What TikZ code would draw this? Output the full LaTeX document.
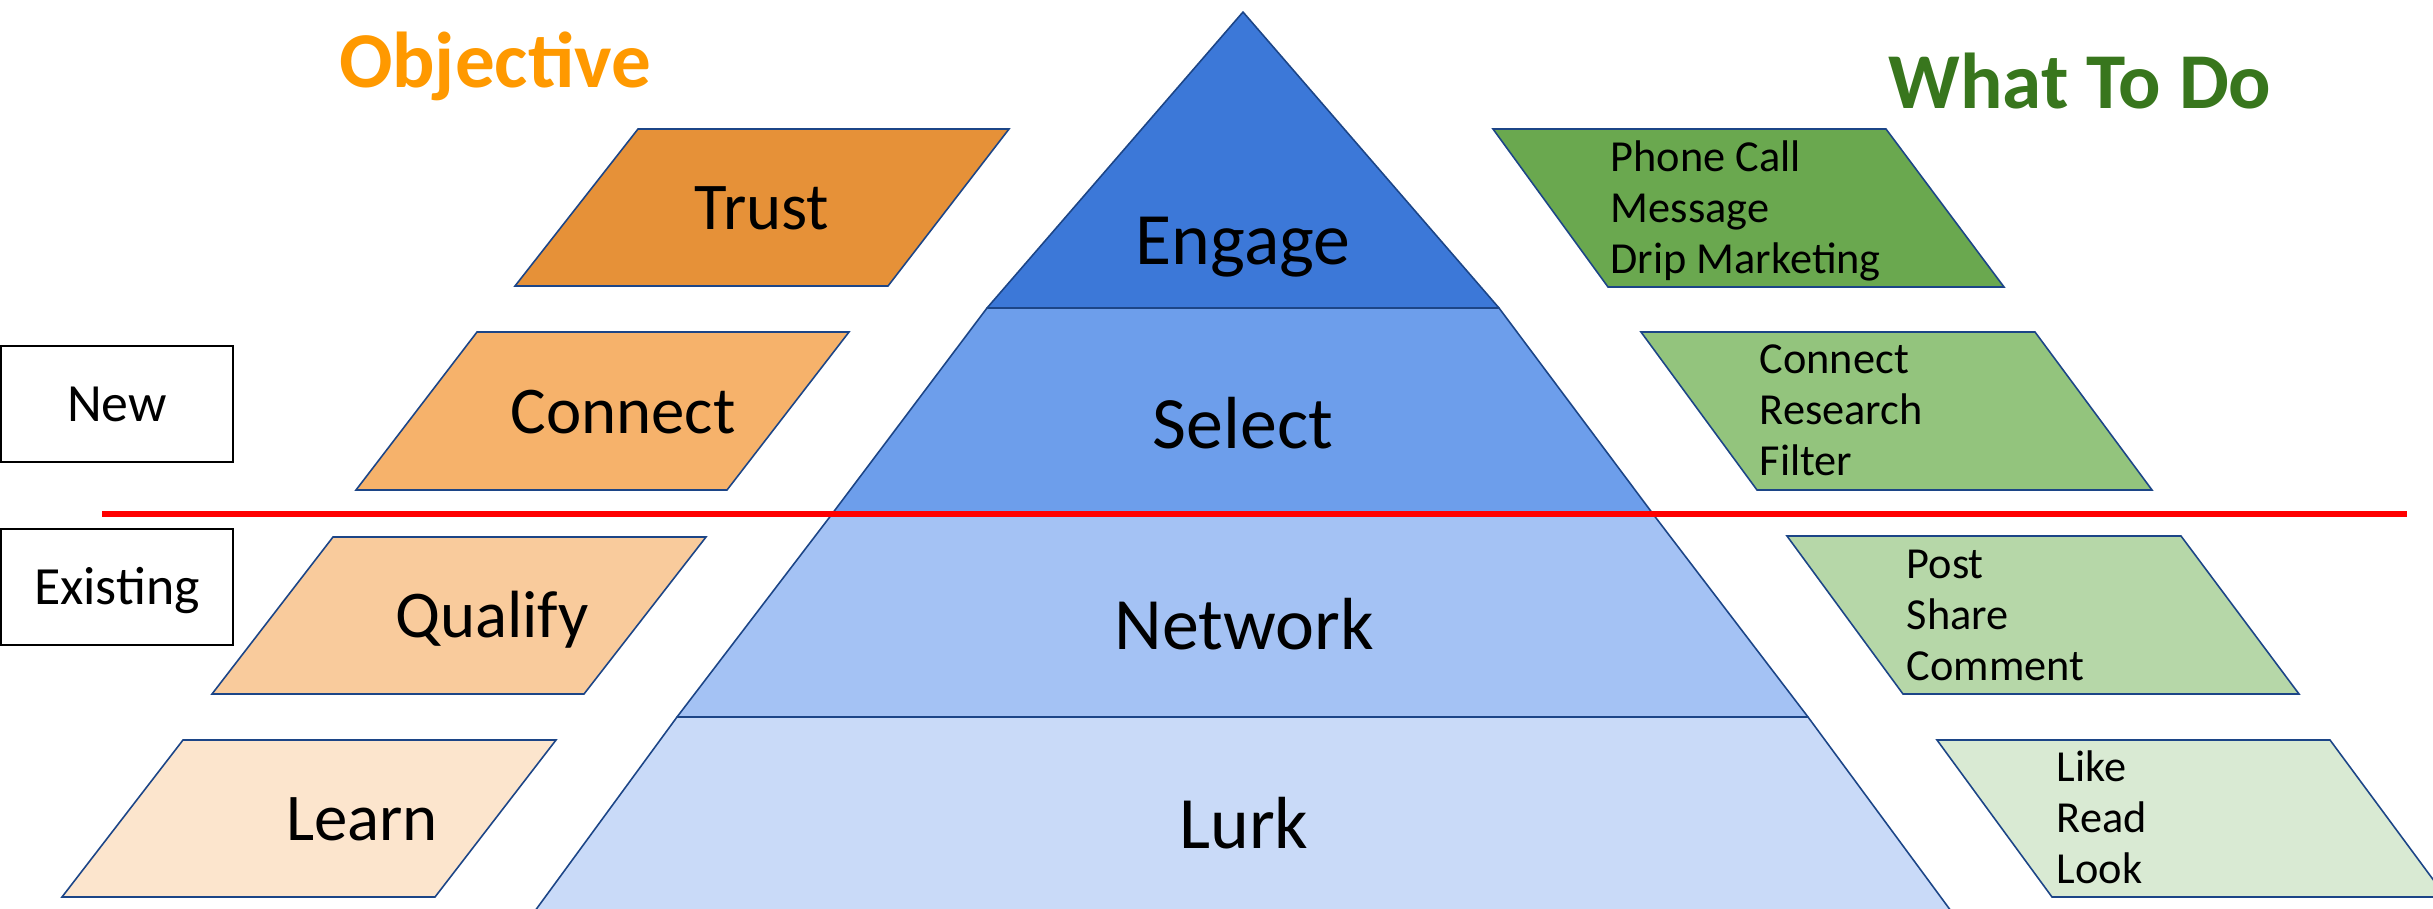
\documentclass[tikz,border=0pt]{standalone}
\usepackage{fontspec}
\setmainfont{Carlito}
\usepackage{xcolor}
\usetikzlibrary{positioning}
\definecolor{edgeblue}{HTML}{1C4587}
\definecolor{tierA}{HTML}{3C78D8}
\definecolor{tierB}{HTML}{6D9EEB}
\definecolor{tierC}{HTML}{A4C2F4}
\definecolor{tierD}{HTML}{C9DAF8}
\definecolor{goalA}{HTML}{E69138}
\definecolor{goalB}{HTML}{F6B26B}
\definecolor{goalC}{HTML}{F9CB9C}
\definecolor{goalD}{HTML}{FCE5CD}
\definecolor{todoA}{HTML}{6AA84F}
\definecolor{todoB}{HTML}{93C47D}
\definecolor{todoC}{HTML}{B6D7A8}
\definecolor{todoD}{HTML}{D9EAD3}
\definecolor{headorange}{HTML}{FF9900}
\definecolor{headgreen}{HTML}{38761D}
\tikzset{
  tier/.style={draw=edgeblue, line width=0.45pt, line join=round},
  plgram/.style={draw=edgeblue, line width=0.45pt},
  tiertxt/.style={font=\fontsize{21}{25}\selectfont, anchor=base, inner sep=0pt},
  goaltxt/.style={font=\fontsize{19}{23}\selectfont, anchor=base, inner sep=0pt},
  todotxt/.style={font=\fontsize{12.6}{14.5}\selectfont, align=left, anchor=base west, inner sep=0pt},
  headtxt/.style={font=\fontsize{22.5}{27}\selectfont\bfseries, anchor=base, inner sep=0pt},
  tagbox/.style={draw=black, line width=0.7pt, font=\fontsize{15.3}{18}\selectfont, inner sep=0pt, minimum width=2.32cm, minimum height=1.16cm, text height=0.44cm, text depth=0.10cm},
  divider/.style={red, line width=1.7pt}
}
\begin{document}
\begin{tikzpicture}[x=0.01cm, y=-0.01cm]
\useasboundingbox (0,0) rectangle (2433,908);
% pyramid tiers
\filldraw[tier, fill=tierD] (677,717) -- (1808,717) -- (1965,930) -- (521,930) -- cycle;
\filldraw[tier, fill=tierC] (832,514) -- (1653,514) -- (1808,717) -- (677,717) -- cycle;
\filldraw[tier, fill=tierB] (987,308) -- (1499,308) -- (1653,514) -- (832,514) -- cycle;
\filldraw[tier, fill=tierA] (1243,12) -- (1499,308) -- (987,308) -- cycle;
% objective side
\filldraw[plgram, fill=goalA] (638,129) -- (1009,129) -- (888,286) -- (515,286) -- cycle;
\filldraw[plgram, fill=goalB] (477,332) -- (849,332) -- (727,490) -- (356,490) -- cycle;
\filldraw[plgram, fill=goalC] (333,537) -- (706,537) -- (584,694) -- (212,694) -- cycle;
\filldraw[plgram, fill=goalD] (183,740) -- (556,740) -- (435,897) -- (62,897) -- cycle;
% what to do side
\filldraw[plgram, fill=todoA] (1493,129) -- (1886,129) -- (2004,287) -- (1608,287) -- cycle;
\filldraw[plgram, fill=todoB] (1641,332) -- (2035,332) -- (2152,490) -- (1757,490) -- cycle;
\filldraw[plgram, fill=todoC] (1787,536) -- (2181,536) -- (2299,694) -- (1903,694) -- cycle;
\filldraw[plgram, fill=todoD] (1937,740) -- (2330,740) -- (2446,897) -- (2052,897) -- cycle;
% new / existing split
\draw[divider] (102,514) -- (2407,514);
\node[tagbox] (new) at (117,404) {New};
\node[tagbox] (existing) at (117,587) {Existing};
% headings
\node[headtxt, text=headorange] (hobj) at (495,87) {Objective};
\node[headtxt, text=headgreen] (hdo) at (2080,108) {What To Do};
% tier labels
\node[tiertxt] (t1) at (1243,264) {Engage};
\node[tiertxt] (t2) at (1243,448) {Select};
\node[tiertxt] (t3) at (1244,649) {Network};
\node[tiertxt] (t4) at (1244,848) {Lurk};
% objective labels
\node[goaltxt] (g1) at (762,229) {Trust};
\node[goaltxt] (g2) at (623,433) {Connect};
\node[goaltxt] (g3) at (492,637) {Qualify};
\node[goaltxt] (g4) at (362,840) {Learn};
% actions (anchored on the last line)
\node[todotxt] (d1) at (1610,273) {Phone Call\\Message\\Drip Marketing};
\node[todotxt] (d2) at (1759,475) {Connect\\Research\\Filter};
\node[todotxt] (d3) at (1906,680) {Post\\Share\\Comment};
\node[todotxt] (d4) at (2056,883) {Like\\Read\\Look};
\end{tikzpicture}
\end{document}
